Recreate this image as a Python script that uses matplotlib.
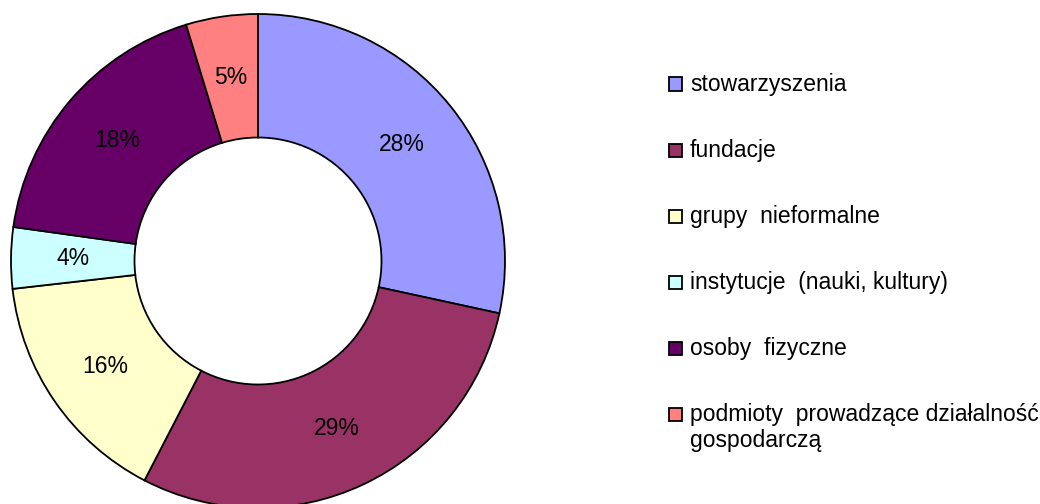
import matplotlib
matplotlib.use('Agg')
import matplotlib.pyplot as plt
from matplotlib.patches import Rectangle

plt.rcParams['font.family'] = ['Liberation Sans', 'DejaVu Sans']

categories = ['stowarzyszenia', 'fundacje', 'grupy  nieformalne',
              'instytucje  (nauki, kultury)', 'osoby  fizyczne',
              'podmioty  prowadzące działalność\ngospodarczą']
# shares (labels show them rounded)
shares = [28.4, 29.2, 15.6, 4.0, 18.1, 4.7]
colors = ['#9999FF', '#993366', '#FFFFCC', '#CCFFFF', '#660066', '#FF8080']

W, H = 1040, 504
fig = plt.figure(figsize=(W / 100, H / 100), dpi=100)

# donut: center (258, 261) px, radius 247 px
cx, cy, r = 258, 261, 247
ax = fig.add_axes([(cx - r) / W, (H - cy - r) / H, 2 * r / W, 2 * r / H])
ax.pie(shares, colors=colors, startangle=90, counterclock=False,
       radius=1, autopct='%.0f%%', pctdistance=0.75,
       wedgeprops=dict(width=0.5, edgecolor='black', linewidth=1.3),
       textprops=dict(fontsize=16.5, color='black'))
ax.set_xlim(-1, 1)
ax.set_ylim(-1, 1)
ax.set_aspect('auto')
ax.axis('off')

# legend drawn by hand so the box sits on the first line of wrapped labels
x0, y0, step, box, line_h = 669, 84, 66, 13, 27
for i, (lab, col) in enumerate(zip(categories, colors)):
    y = y0 + i * step
    fig.add_artist(Rectangle((x0 / W, (H - y - box / 2) / H), box / W, box / H,
                             facecolor=col, edgecolor='black', linewidth=1.3,
                             transform=fig.transFigure))
    for k, part in enumerate(lab.split('\n')):
        fig.text((x0 + 21) / W, (H - y - k * line_h) / H, part, fontsize=16.5,
                 ha='left', va='center')

fig.savefig('out.png', dpi=100)
